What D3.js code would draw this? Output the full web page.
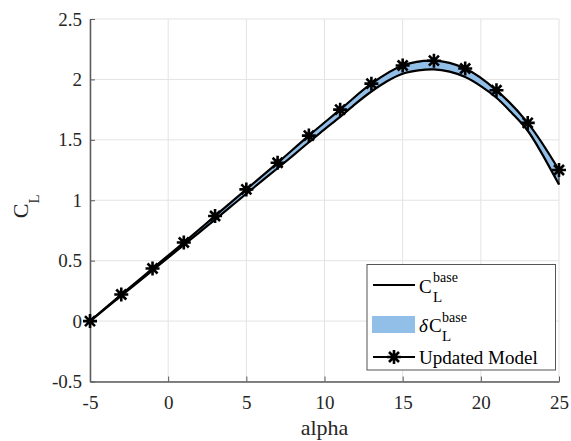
<!DOCTYPE html>
<html><head><meta charset="utf-8">
<script src="https://cdn.jsdelivr.net/npm/d3@7"></script>
<style>body{margin:0;background:#fff}svg{display:block}text{font-family:'Liberation Serif','Times New Roman',Times,'Nimbus Roman','DejaVu Serif',serif !important}</style>
</head><body>
<svg id="c" width="571" height="441"></svg>
<script>
// ---- data ----
const alphaBase = d3.range(-5, 26, 1);
const clBase = [0.000,0.105,0.210,0.315,0.420,0.525,0.630,0.735,0.840,0.947,1.054,1.160,1.265,1.372,1.480,1.587,1.690,1.800,1.900,1.985,2.047,2.075,2.083,2.064,2.020,1.945,1.848,1.720,1.575,1.365,1.130];
const deltaCL = [0.000,0.005,0.010,0.012,0.015,0.018,0.020,0.025,0.030,0.033,0.036,0.040,0.045,0.050,0.055,0.058,0.060,0.062,0.064,0.066,0.068,0.070,0.072,0.072,0.070,0.066,0.062,0.060,0.065,0.090,0.120];
const alphaUpd = [-5,-3,-1,1,3,5,7,9,11,13,15,17,19,21,23,25];
const clUpd = [0.000,0.220,0.435,0.650,0.870,1.090,1.310,1.535,1.750,1.965,2.115,2.155,2.090,1.910,1.640,1.250];
const xTicks = [-5,0,5,10,15,20,25];
const xTickLabels = ["-5","0","5","10","15","20","25"];
const yTicks = [-0.5,0,0.5,1,1.5,2,2.5];
const yTickLabels = ["-0.5","0","0.5","1","1.5","2","2.5"];

const svg = d3.select("#c");
const L = 90, R = 559, T = 19, B = 381.5;
const x = d3.scaleLinear().domain([-5,25]).range([L,R]);
const y = d3.scaleLinear().domain([-0.5,2.5]).range([B,T]);
const txtCol = "#262626", axCol = "#5a5a5a", gridCol = "#e3e3e3";
const FF = "'Liberation Serif','Times New Roman',Times,'Nimbus Roman','DejaVu Serif',serif";

// grid
const g = svg.append("g");
g.selectAll(".gx").data(xTicks).join("line").attr("x1",d=>x(d)).attr("x2",d=>x(d)).attr("y1",T).attr("y2",B).attr("stroke",gridCol).attr("stroke-width",1);
g.selectAll(".gy").data(yTicks).join("line").attr("x1",L).attr("x2",R).attr("y1",d=>y(d)).attr("y2",d=>y(d)).attr("stroke",gridCol).attr("stroke-width",1);

// axes
const xAxis = d3.axisBottom(x).tickValues(xTicks).tickSizeInner(-5).tickSizeOuter(0).tickPadding(14).tickFormat((d,i)=>xTickLabels[i]);
const yAxis = d3.axisLeft(y).tickValues(yTicks).tickSizeInner(-5).tickSizeOuter(0).tickPadding(8).tickFormat((d,i)=>yTickLabels[i]);
const gx = svg.append("g").attr("transform",`translate(0,${B})`).call(xAxis);
const gy = svg.append("g").attr("transform",`translate(${L},0)`).call(yAxis);
[gx,gy].forEach(a=>{
  a.attr("font-family",FF).attr("font-size",19);
  a.select(".domain").attr("stroke",axCol).attr("stroke-width",1.5);
  a.selectAll(".tick line").attr("stroke",axCol).attr("stroke-width",1);
  a.selectAll(".tick text").attr("fill",txtCol);
});

// band
const band = alphaBase.map((a,i)=>({a, lo:clBase[i], hi:clBase[i]+deltaCL[i]}));
const area = d3.area().x(d=>x(d.a)).y0(d=>y(d.lo)).y1(d=>y(d.hi)).curve(d3.curveCatmullRom);
svg.append("path").datum(band).attr("d",area).attr("fill","#92bfe7").attr("stroke","#000").attr("stroke-width",1);
const lineB = d3.line().x(d=>x(d.a)).y(d=>y(d.lo)).curve(d3.curveCatmullRom);
svg.append("path").datum(band).attr("d",lineB).attr("fill","none").attr("stroke","#000").attr("stroke-width",2.2);

// updated model
const upd = alphaUpd.map((a,i)=>({a, v:clUpd[i]}));
const lineU = d3.line().x(d=>x(d.a)).y(d=>y(d.v)).curve(d3.curveCatmullRom);
svg.append("path").datum(upd).attr("d",lineU).attr("fill","none").attr("stroke","#000").attr("stroke-width",2.2);
const r = 7, rd = 5;
const star = `M0,${-r}V${r}M${-r},0H${r}M${-rd},${-rd}L${rd},${rd}M${-rd},${rd}L${rd},${-rd}`;
svg.append("g").selectAll("path").data(upd).join("path")
  .attr("transform",d=>`translate(${x(d.a)},${y(d.v)})`).attr("d",star)
  .attr("stroke","#000").attr("stroke-width",2.6).attr("fill","none");

// axis labels
svg.append("text").attr("x",(L+R)/2).attr("y",435).attr("text-anchor","middle").attr("fill",txtCol).style("font-size","22px").text("alpha");
const yl = svg.append("text").attr("transform",`translate(28,${(T+B)/2+6}) rotate(-90)`).attr("fill",txtCol).attr("text-anchor","middle").style("font-size","22px");
yl.append("tspan").text("C");
yl.append("tspan").attr("dy",11).style("font-size","15px").text("L");

// legend
const lg = svg.append("g");
lg.append("rect").attr("x",367).attr("y",264.5).attr("width",188.5).attr("height",105.5).attr("fill","#fff").attr("stroke","#555").attr("stroke-width",1);
lg.append("line").attr("x1",373).attr("x2",415).attr("y1",285).attr("y2",285).attr("stroke","#000").attr("stroke-width",2.2);
lg.append("rect").attr("x",372).attr("y",316).attr("width",43).attr("height",17).attr("fill","#92bfe7");
lg.append("line").attr("x1",373).attr("x2",415).attr("y1",357).attr("y2",357).attr("stroke","#000").attr("stroke-width",2.2);
lg.append("path").attr("transform","translate(394,357)").attr("d",star).attr("stroke","#000").attr("stroke-width",2.6).attr("fill","none");
const ts = (xx,yy,s,t,st)=>lg.append("text").attr("x",xx).attr("y",yy).attr("fill","#000").style("font-size",s+"px").style("font-style",st||"normal").text(t);
ts(419,293,19,"C");
ts(433,282,14,"base");
ts(433,302,15,"L");
ts(419,332,19,"δ","italic");
ts(429,332,19,"C");
ts(442,322,14,"base");
ts(442,341,15,"L");
ts(419,364,19,"Updated Model");
</script>
</body></html>
